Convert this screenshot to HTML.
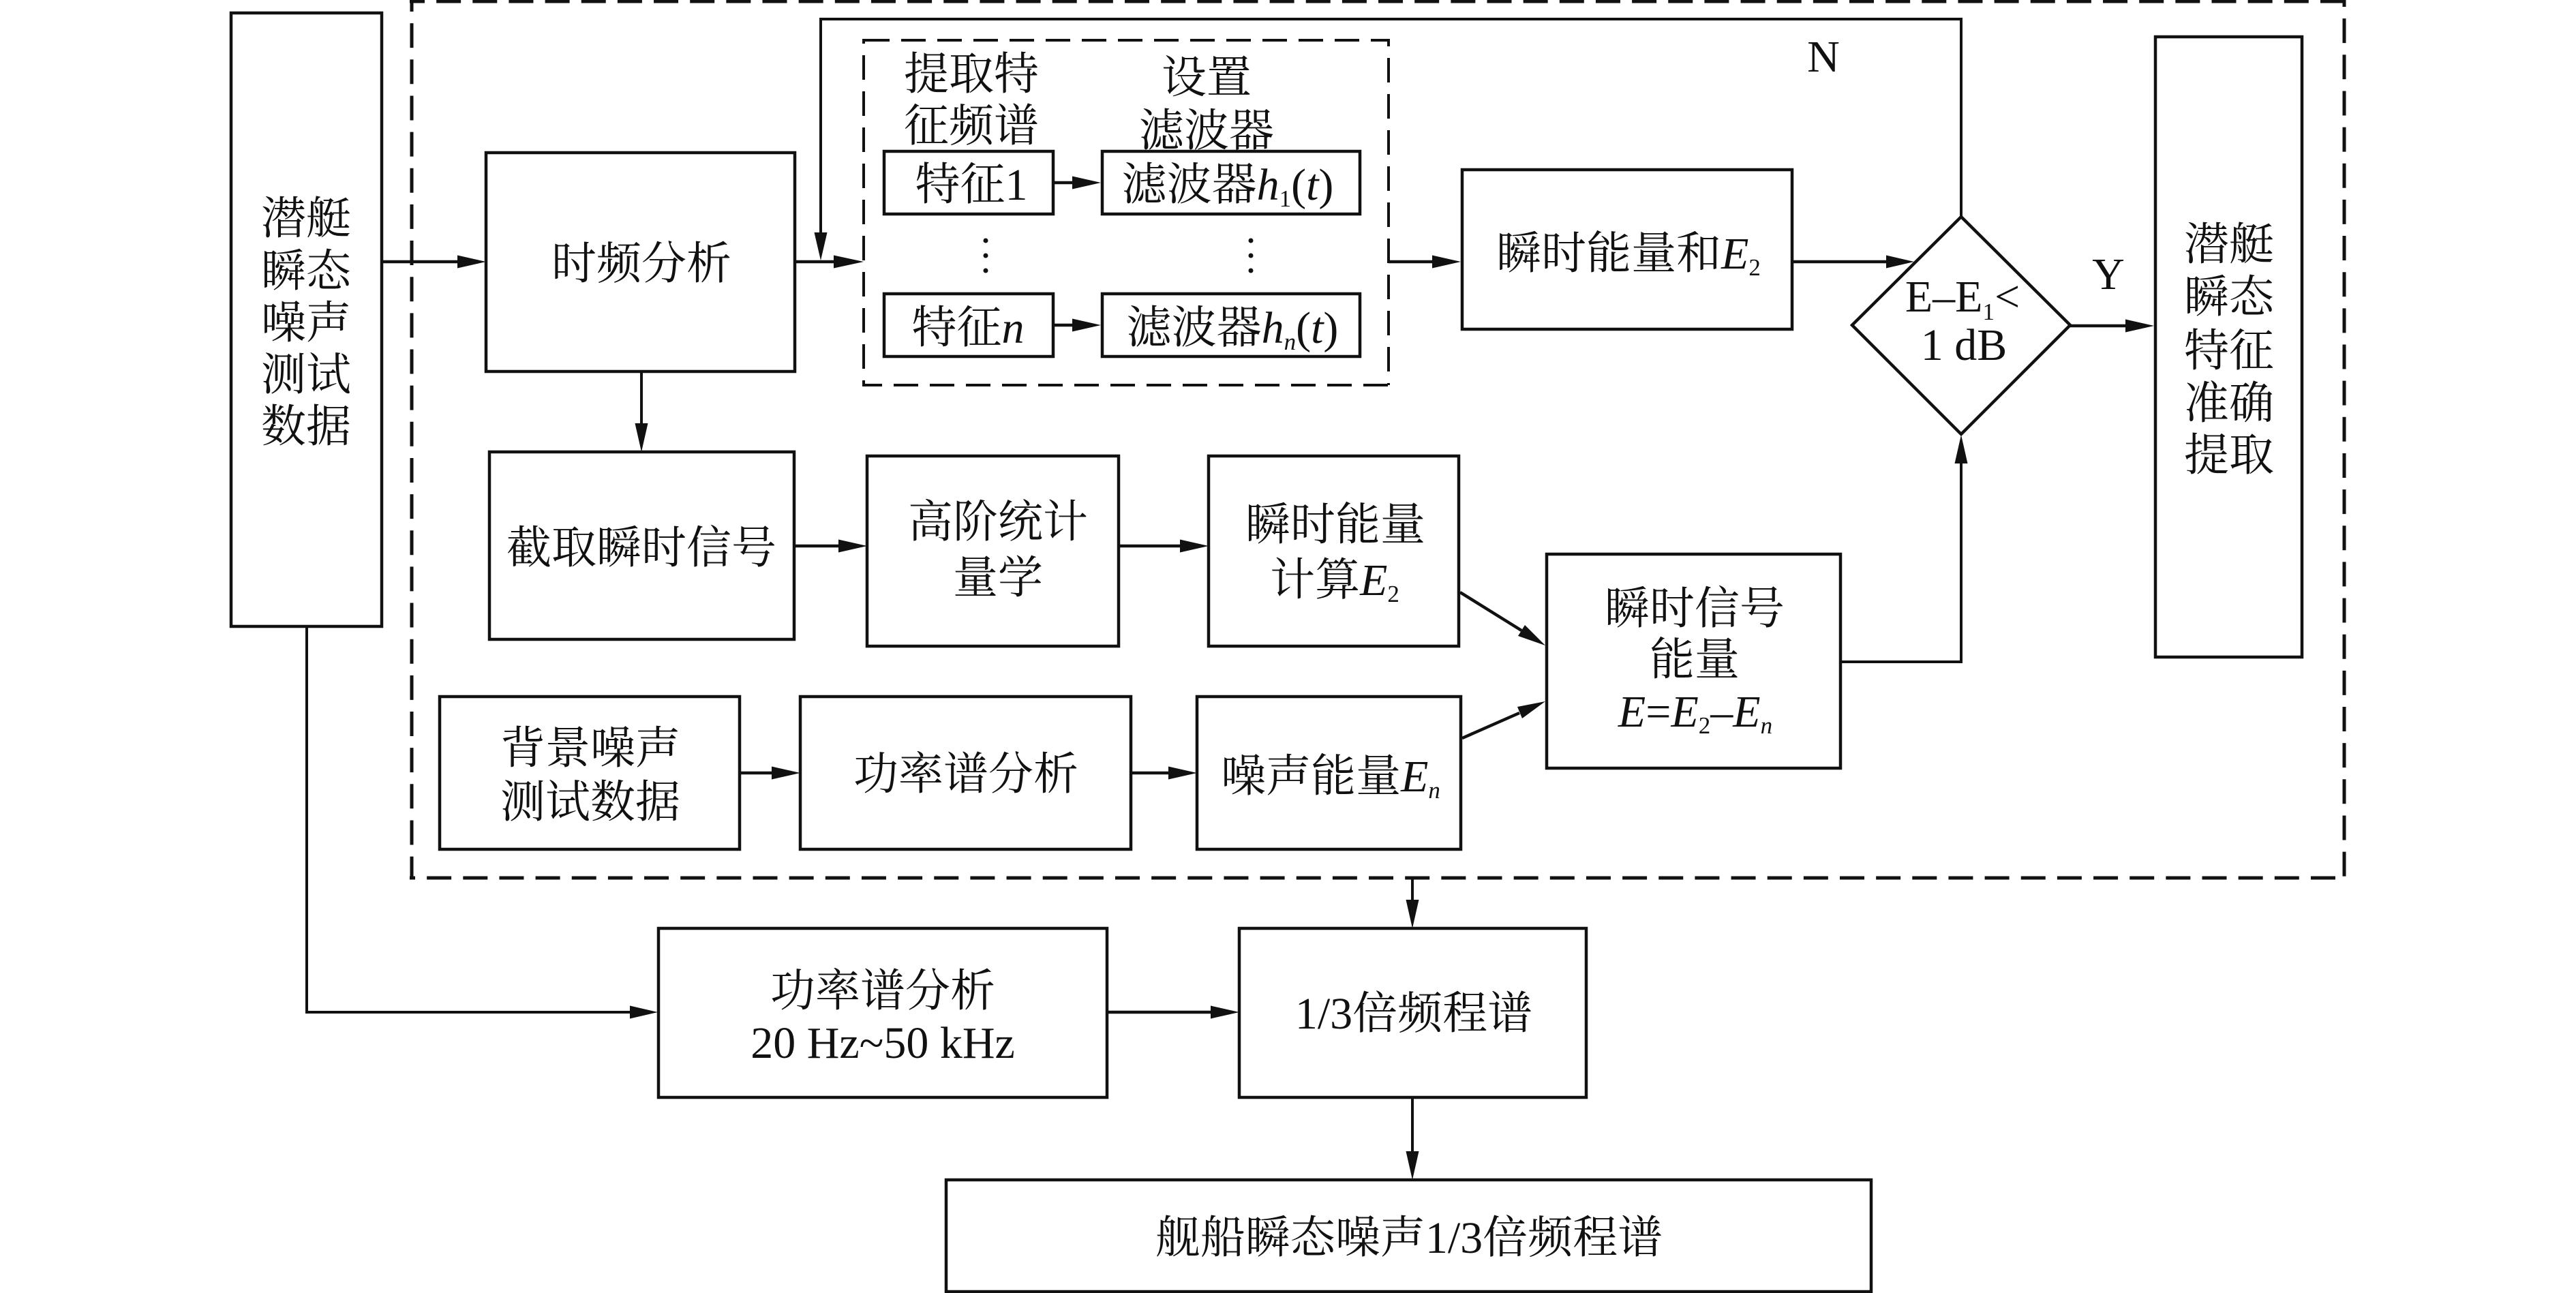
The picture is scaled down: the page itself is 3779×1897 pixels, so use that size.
<!DOCTYPE html>
<html><head><meta charset="utf-8"><style>
html,body{margin:0;padding:0;background:#fff}
svg{display:block}
text{font-family:"Liberation Serif","Noto Serif CJK SC",serif;font-size:66px;fill:#111;text-anchor:middle}
.i{font-style:italic}
.s{font-size:35px}
rect,.d{fill:#fff;stroke:#111;stroke-width:4.5}
.l{fill:none;stroke:#111;stroke-width:4}
.t{fill:none;stroke:#111;stroke-width:4.5}
.o{fill:none;stroke:#111;stroke-width:5;stroke-dasharray:36 17.15}
.n{fill:none;stroke:#111;stroke-width:4;stroke-dasharray:36 17}
polygon.a,circle{fill:#111;stroke:none}
</style></head><body>
<svg width="3779" height="1897" viewBox="0 0 3779 1897" xmlns="http://www.w3.org/2000/svg">
<!-- outer dashed -->
<path class="o" stroke-dashoffset="14" d="M601 2H3442"/>
<path class="o" stroke-dashoffset="26" d="M3439 0V1286"/>
<path class="o" stroke-dashoffset="19" d="M604 0V1290"/>
<path class="o" stroke-dashoffset="28" d="M601 1288H3428"/>
<!-- inner dashed -->
<path class="n" stroke-dashoffset="8" d="M2039 59H1267"/>
<path class="n" stroke-dashoffset="25" d="M2037 57V565"/>
<path class="n" stroke-dashoffset="7" d="M1265 565H2039"/>
<path class="n" stroke-dashoffset="27" d="M1267 567V57"/>
<!-- connectors -->
<path class="l" d="M2877 318V28H1204V345"/>
<path class="t" d="M560 384H675M1166 384H1230M2037 384H2105M2629 384H2770M3037 478H3122M1165 801H1235M1641 801H1735M1085 1134H1135M1659 1134H1716M1624 1485H1780M1545 268H1577M1545 477H1577"/>
<path class="l" d="M941 545V625M450 919V1485H928M2700 971H2877V680M2072 1288V1322M2072 1610V1692"/>
<path class="t" d="M2142 869L2232 925M2145 1083L2229 1046"/>
<!-- arrowheads -->
<polygon class="a" points="713,384 671,374.500 671,393.500"/>
<polygon class="a" points="1267,384 1223,374.500 1223,393.500"/>
<polygon class="a" points="1204,382 1194.500,341 1213.500,341"/>
<polygon class="a" points="2143,384 2101,374.500 2101,393.500"/>
<polygon class="a" points="2808,384 2767,374.500 2767,393.500"/>
<polygon class="a" points="3160,478 3118,468.500 3118,487.500"/>
<polygon class="a" points="2877,638 2867.500,680 2886.500,680"/>
<polygon class="a" points="941,663 931.500,621 950.500,621"/>
<polygon class="a" points="1272,801 1230,791.500 1230,810.500"/>
<polygon class="a" points="1773,801 1731,791.500 1731,810.500"/>
<polygon class="a" points="1174,1134 1132,1124.500 1132,1143.500"/>
<polygon class="a" points="1756,1134 1714,1124.500 1714,1143.500"/>
<polygon class="a" points="965,1485 924,1475.500 924,1494.500"/>
<polygon class="a" points="1818,1485 1776,1475.500 1776,1494.500"/>
<polygon class="a" points="2072,1362 2062.500,1320 2081.500,1320"/>
<polygon class="a" points="2072,1731 2062.500,1689 2081.500,1689"/>
<polygon class="a" points="1615,268 1573,258.500 1573,277.500"/>
<polygon class="a" points="1615,477 1573,467.500 1573,486.500"/>
<polygon class="a" points="2267,947 2227,933 2237,917"/>
<polygon class="a" points="2267,1029 2226,1037 2233,1054"/>
<!-- boxes -->
<rect x="339" y="19" width="221" height="900"/>
<rect x="713" y="224" width="453" height="321"/>
<rect x="1297" y="222" width="248" height="92"/>
<rect x="1617" y="222" width="378" height="92"/>
<rect x="1297" y="431" width="248" height="92"/>
<rect x="1617" y="431" width="378" height="92"/>
<rect x="2145" y="249" width="484" height="234"/>
<polygon class="d" points="2877,318 3037,477 2877,637 2717,477"/>
<rect x="3162" y="54" width="215" height="910"/>
<rect x="718" y="663" width="447" height="275"/>
<rect x="1272" y="669" width="369" height="279"/>
<rect x="1773" y="669" width="367" height="279"/>
<rect x="2269" y="813" width="431" height="314"/>
<rect x="645" y="1022" width="440" height="224"/>
<rect x="1174" y="1022" width="485" height="224"/>
<rect x="1756" y="1022" width="387" height="224"/>
<rect x="966" y="1362" width="658" height="248"/>
<rect x="1818" y="1362" width="509" height="248"/>
<rect x="1388" y="1731" width="1357" height="164"/>
<!-- text -->
<text x="449" y="343">潜艇</text>
<text x="449" y="420">瞬态</text>
<text x="449" y="496">噪声</text>
<text x="449" y="572">测试</text>
<text x="449" y="648">数据</text>
<text x="1425" y="131">提取特</text>
<text x="1425" y="207">征频谱</text>
<text x="1770" y="136">设置</text>
<text x="1770" y="214">滤波器</text>
<text x="1425" y="293">特征1</text>
<text x="1801" y="293">滤波器<tspan class="i">h</tspan><tspan class="s" dy="10">1</tspan><tspan dy="-10">(</tspan><tspan class="i">t</tspan>)</text>
<text x="1420" y="503">特征<tspan class="i">n</tspan></text>
<text x="1808" y="503">滤波器<tspan class="i">h</tspan><tspan class="s i" dy="10">n</tspan><tspan dy="-10">(</tspan><tspan class="i">t</tspan>)</text>
<circle cx="1446" cy="353" r="3.500"/><circle cx="1446" cy="375" r="3.500"/><circle cx="1446" cy="397" r="3.500"/>
<circle cx="1835" cy="353" r="3.500"/><circle cx="1835" cy="375" r="3.500"/><circle cx="1835" cy="397" r="3.500"/>
<text x="941" y="409">时频分析</text>
<text x="2389" y="394">瞬时能量和<tspan class="i">E</tspan><tspan class="s" dy="10">2</tspan></text>
<text x="2879" y="457">E–E<tspan class="s" dy="12">1</tspan><tspan dy="-12">&lt;</tspan></text>
<text x="2881" y="528">1 dB</text>
<text x="2675" y="105">N</text>
<text x="3093" y="424">Y</text>
<text x="3270" y="381">潜艇</text>
<text x="3270" y="458">瞬态</text>
<text x="3270" y="537">特征</text>
<text x="3270" y="614">准确</text>
<text x="3270" y="690">提取</text>
<text x="941" y="826">截取瞬时信号</text>
<text x="1464" y="788">高阶统计</text>
<text x="1464" y="870">量学</text>
<text x="1959" y="792">瞬时能量</text>
<text x="1958" y="873">计算<tspan class="i">E</tspan><tspan class="s" dy="10">2</tspan></text>
<text x="2486" y="915">瞬时信号</text>
<text x="2486" y="990">能量</text>
<text x="2487" y="1066"><tspan class="i">E</tspan>=<tspan class="i">E</tspan><tspan class="s" dy="10">2</tspan><tspan dy="-10">–</tspan><tspan class="i">E</tspan><tspan class="s i" dy="10">n</tspan></text>
<text x="866" y="1120">背景噪声</text>
<text x="866" y="1199">测试数据</text>
<text x="1417" y="1158">功率谱分析</text>
<text x="1952" y="1161">噪声能量<tspan class="i">E</tspan><tspan class="s i" dy="10">n</tspan></text>
<text x="1295" y="1476">功率谱分析</text>
<text x="1295" y="1552">20 Hz~50 kHz</text>
<text x="2074" y="1509">1/3倍频程谱</text>
<text x="2067" y="1838">舰船瞬态噪声1/3倍频程谱</text>
</svg>
</body></html>
